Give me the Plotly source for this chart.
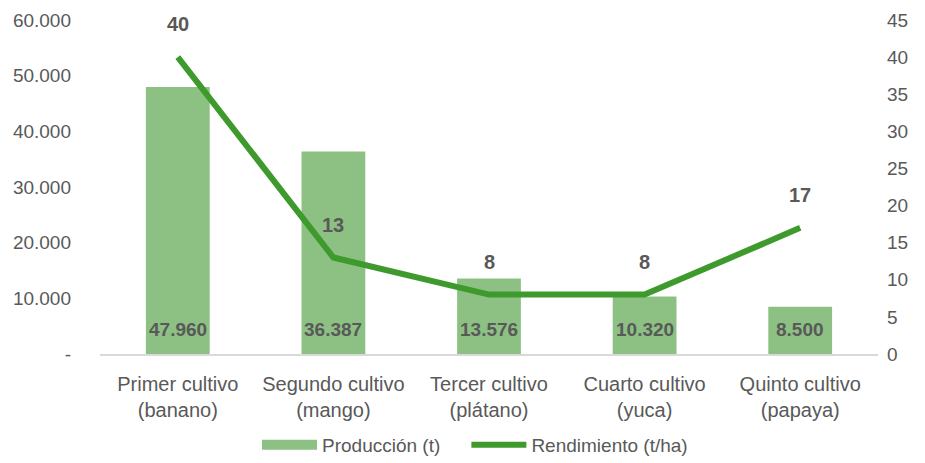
import plotly.graph_objects as go

categories = ["Primer cultivo<br>(banano)", "Segundo cultivo<br>(mango)", "Tercer cultivo<br>(plátano)",
              "Cuarto cultivo<br>(yuca)", "Quinto cultivo<br>(papaya)"]
produccion = [47960, 36387, 13576, 10320, 8500]
rendimiento = [40, 13, 8, 8, 17]
left_ticks = [0, 10000, 20000, 30000, 40000, 50000, 60000]
left_ticklabels = ["-", "10.000", "20.000", "30.000", "40.000", "50.000", "60.000"]
right_ticks = [0, 5, 10, 15, 20, 25, 30, 35, 40, 45]

FONT = "Liberation Sans, Arial, sans-serif"
GREY = "#595959"
BAR_COLOR = "#8dc183"
NBSP = "\u00a0"

fig = go.Figure()
fig.add_trace(go.Bar(
    x=categories, y=produccion, name="Producción (t)",
    marker=dict(color=BAR_COLOR, line=dict(width=0)),
    width=0.41, yaxis="y", showlegend=False,
))
# legend swatch for the bars (wide rectangle as in reference)
fig.add_trace(go.Scatter(
    x=[None], y=[None], name="Producción (t)" + NBSP * 4, mode="lines",
    line=dict(color=BAR_COLOR, width=13), yaxis="y",
))
fig.add_trace(go.Scatter(
    x=categories, y=rendimiento, name="Rendimiento (t/ha)",
    mode="lines", line=dict(color="#3f9a2d", width=6), yaxis="y2",
))

annotations = []
for c, v in zip(categories, produccion):
    annotations.append(dict(
        x=c, y=0, xref="x", yref="y", text="<b>%s</b>" % f"{v:,}".replace(",", "."),
        showarrow=False, yanchor="bottom", yshift=12,
        font=dict(family=FONT, size=19, color=GREY)))
for c, v in zip(categories, rendimiento):
    annotations.append(dict(
        x=c, y=v, xref="x", yref="y2", text="<b>%d</b>" % v,
        showarrow=False, yanchor="middle", yshift=33,
        font=dict(family=FONT, size=20, color=GREY)))

fig.update_layout(
    width=925, height=463,
    margin=dict(l=92, r=55, t=12, b=117, autoexpand=False),
    plot_bgcolor="white", paper_bgcolor="white",
    font=dict(family=FONT, size=19, color=GREY),
    bargap=0.59,
    showlegend=True,
    legend=dict(orientation="h", x=0.482, xanchor="center", y=-0.272, yanchor="middle",
                itemwidth=55,
                font=dict(family=FONT, size=19, color=GREY)),
    xaxis=dict(showline=True, linecolor="#d9d9d9", linewidth=2, ticks="",
               automargin=False, ticklabelstandoff=11,
               tickfont=dict(family=FONT, size=20, color=GREY)),
    yaxis=dict(range=[0, 60000], tickvals=left_ticks, ticktext=left_ticklabels,
               showgrid=False, zeroline=False, ticks="", ticklabelstandoff=28,
               automargin=False,
               tickfont=dict(family=FONT, size=19, color=GREY)),
    yaxis2=dict(range=[0, 45], tickvals=right_ticks, overlaying="y", side="right",
                showgrid=False, zeroline=False, ticks="", automargin=False,
                ticklabelstandoff=8,
                tickfont=dict(family=FONT, size=19, color=GREY)),
    annotations=annotations,
)

fig.write_html("out.html")
